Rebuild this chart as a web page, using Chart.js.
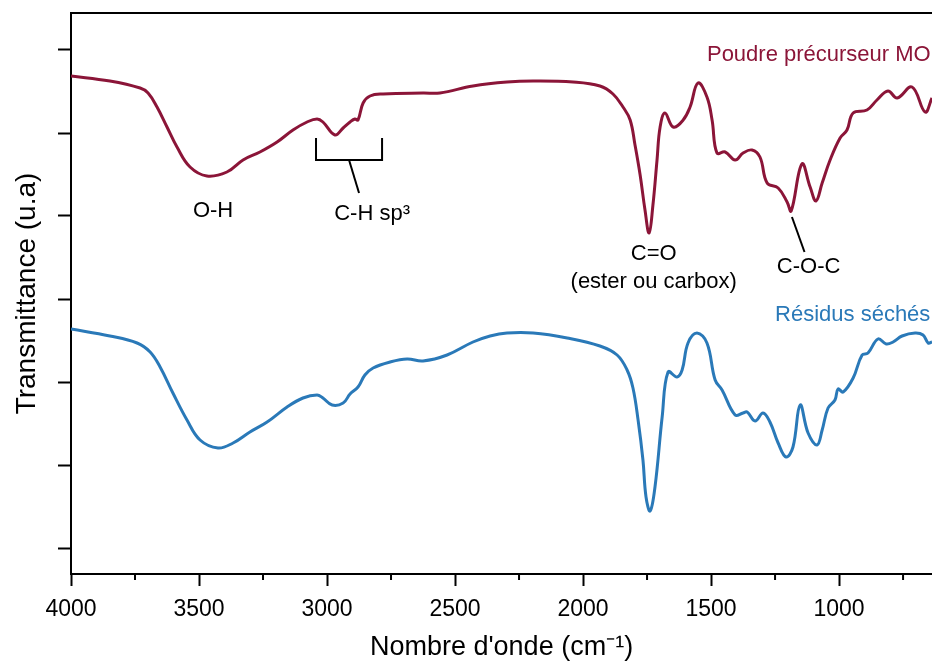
<!DOCTYPE html>
<html>
<head>
<meta charset="utf-8">
<script src="https://cdn.jsdelivr.net/npm/chart.js@4.4.1/dist/chart.umd.min.js"></script>
<style>
  html, body { margin: 0; padding: 0; background: #fff; }
  #wrap { width: 932px; height: 664px; }
</style>
</head>
<body>
<div id="wrap"><canvas id="ftirChart" width="932" height="664"></canvas></div>
<script>
// Spectres IR : nombre d'onde (cm-1) et transmittance (u.a, décalée)
const wavePoudre = [4000, 3848, 3730, 3699, 3664, 3625, 3586, 3535, 3469, 3391,
    3328, 3262, 3195, 3133, 3078, 3039, 3016, 2969, 2937, 2910,
    2891, 2879, 2859, 2832, 2781, 2625, 2559, 2430, 2297, 2195,
    2039, 1934, 1883, 1844, 1816, 1797, 1777, 1758, 1742, 1727,
    1711, 1699, 1680, 1648, 1609, 1582, 1551, 1516, 1496, 1477,
    1445, 1406, 1375, 1340, 1309, 1281, 1238, 1203, 1187, 1145,
    1113, 1090, 1066, 1035, 996, 969, 945, 891, 852, 809,
    773, 715, 664, 637];
const transPoudre = [498, 493, 486, 481, 467, 447, 427, 407, 398, 402,
    414, 422, 432, 444, 452, 455, 452, 439, 446, 452,
    455, 454, 471, 478, 480, 481, 481, 488, 492, 493,
    492, 488, 480, 467, 454, 429, 399, 364, 341, 369,
    414, 447, 461, 447, 454, 467, 491, 477, 454, 421,
    422, 414, 421, 424, 417, 391, 386, 372, 363, 410,
    387, 373, 391, 414, 436, 444, 461, 464, 474, 483,
    476, 487, 462, 476];

const waveResidus = [4000, 3848, 3742, 3691, 3652, 3602, 3547, 3496, 3426, 3367,
    3301, 3234, 3156, 3094, 3039, 3016, 2980, 2937, 2910, 2879,
    2852, 2820, 2754, 2687, 2625, 2531, 2430, 2363, 2297, 2195,
    2062, 1934, 1867, 1828, 1805, 1785, 1766, 1754, 1738, 1719,
    1691, 1668, 1633, 1613, 1590, 1555, 1516, 1484, 1457, 1406,
    1375, 1359, 1328, 1297, 1270, 1238, 1207, 1180, 1152, 1121,
    1086, 1066, 1043, 1016, 1004, 984, 945, 910, 887, 848,
    816, 789, 754, 703, 672, 652, 637];
const transResidus = [245, 238, 231, 222, 207, 181, 154, 134, 126, 131,
    142, 152, 167, 176, 179, 176, 169, 171, 180, 187,
    199, 206, 212, 215, 213, 219, 232, 238, 241, 241,
    236, 228, 219, 204, 186, 154, 114, 77, 63, 87,
    157, 202, 197, 204, 231, 241, 231, 194, 184, 159,
    161, 162, 153, 161, 152, 131, 117, 127, 169, 141,
    129, 144, 166, 174, 185, 182, 196, 219, 221, 235,
    230, 232, 238, 241, 239, 231, 232];

const xTickValues = [4000, 3500, 3000, 2500, 2000, 1500, 1000];
const xMinorTicks = [3750, 3250, 2750, 2250, 1750, 1250, 750];
const yTickValues = [26, 109, 192, 275, 358, 441, 524];

const seriesNames = ['Poudre précurseur MOF', 'Résidus séchés'];
const peakLabels = ['O-H', 'C-H sp³', 'C=O', '(ester ou carbox)', 'C-O-C'];

const FONT = "'Liberation Sans', Arial, sans-serif";
const RED = '#8b1538';
const BLUE = '#2a79b8';

// où placer les étiquettes (en unités des axes)
const peakSpots = [[3445, 363], [2824, 360], [1724, 320], [1724, 292], [1119, 307]];
const nameSpots = [[1516, 519, RED], [1250, 259, BLUE]];
const bracketPath = [[3043, 436], [3043, 414], [2785, 414], [2785, 436]];
const leaderLines = [[[2914, 414], [2875, 381]], [[1184, 357], [1135, 322]]];

function toPoints(xs, ys) {
    return xs.map((w, i) => ({ x: w, y: ys[i] }));
}

const annotations = {
    id: 'ftirAnnotations',
    afterDraw(chart) {
        const { ctx, chartArea, scales: { x, y } } = chart;
        ctx.save();
        ctx.strokeStyle = '#000';
        ctx.lineWidth = 2;

        // cadre du haut
        ctx.beginPath();
        ctx.moveTo(chartArea.left - 1, chartArea.top);
        ctx.lineTo(chartArea.right, chartArea.top);
        ctx.stroke();

        // petites graduations
        ctx.beginPath();
        xMinorTicks.forEach(v => {
            const px = x.getPixelForValue(v);
            ctx.moveTo(px, chartArea.bottom);
            ctx.lineTo(px, chartArea.bottom + 6);
        });
        ctx.stroke();

        // crochet C-H et traits de rappel
        ctx.beginPath();
        bracketPath.forEach(([w, t], i) => {
            const px = x.getPixelForValue(w), py = y.getPixelForValue(t);
            if (i === 0) ctx.moveTo(px, py); else ctx.lineTo(px, py);
        });
        ctx.stroke();
        leaderLines.forEach(([a, b]) => {
            ctx.beginPath();
            ctx.moveTo(x.getPixelForValue(a[0]), y.getPixelForValue(a[1]));
            ctx.lineTo(x.getPixelForValue(b[0]), y.getPixelForValue(b[1]));
            ctx.stroke();
        });

        ctx.textBaseline = 'middle';
        ctx.textAlign = 'center';
        ctx.fillStyle = '#000';
        ctx.font = `22px ${FONT}`;
        peakLabels.forEach((txt, i) => {
            const [w, t] = peakSpots[i];
            ctx.fillText(txt, x.getPixelForValue(w), y.getPixelForValue(t));
        });

        ctx.textAlign = 'left';
        ctx.font = `22px ${FONT}`;
        seriesNames.forEach((txt, i) => {
            const [w, t, c] = nameSpots[i];
            ctx.fillStyle = c;
            ctx.fillText(txt, x.getPixelForValue(w), y.getPixelForValue(t));
        });
        ctx.restore();
    }
};

const ctx = document.getElementById('ftirChart').getContext('2d');
new Chart(ctx, {
    type: 'line',
    data: {
        datasets: [
            {
                label: seriesNames[0],
                data: toPoints(wavePoudre, transPoudre),
                borderColor: RED,
                borderWidth: 3,
                pointRadius: 0,
                tension: 0.4
            },
            {
                label: seriesNames[1],
                data: toPoints(waveResidus, transResidus),
                borderColor: BLUE,
                borderWidth: 3,
                pointRadius: 0,
                tension: 0.4
            }
        ]
    },
    options: {
        responsive: false,
        animation: false,
        layout: { padding: { top: 13, left: 0, right: 0, bottom: 0 } },
        plugins: { legend: { display: false }, tooltip: { enabled: false } },
        scales: {
            x: {
                type: 'linear',
                reverse: true,
                min: 637,
                max: 4000,
                afterBuildTicks: s => { s.ticks = xTickValues.map(v => ({ value: v })); },
                afterFit: s => { s.height = 90; },
                grid: { drawOnChartArea: false, drawTicks: true, tickLength: 12, tickWidth: 2, tickColor: '#000' },
                border: { display: true, color: '#000', width: 2 },
                ticks: {
                    color: '#000',
                    font: { family: FONT, size: 23 },
                    padding: 10,
                    maxRotation: 0,
                    autoSkip: false,
                    callback: v => String(v)
                },
                title: {
                    display: true,
                    text: "Nombre d'onde (cm⁻¹)",
                    color: '#000',
                    font: { family: FONT, size: 27 },
                    padding: { top: 0, bottom: 0 }
                }
            },
            y: {
                type: 'linear',
                min: 0,
                max: 561,
                afterBuildTicks: s => { s.ticks = yTickValues.map(v => ({ value: v })); },
                afterFit: s => { s.width = 71; },
                grid: { drawOnChartArea: false, drawTicks: true, tickLength: 13, tickWidth: 2, tickColor: '#000' },
                border: { display: true, color: '#000', width: 2 },
                ticks: { callback: () => '', padding: 0 },
                title: {
                    display: true,
                    text: 'Transmittance (u.a)',
                    color: '#000',
                    font: { family: FONT, size: 28 },
                    padding: { top: 10, bottom: 0 }
                }
            }
        }
    },
    plugins: [annotations]
});
</script>
</body>
</html>
